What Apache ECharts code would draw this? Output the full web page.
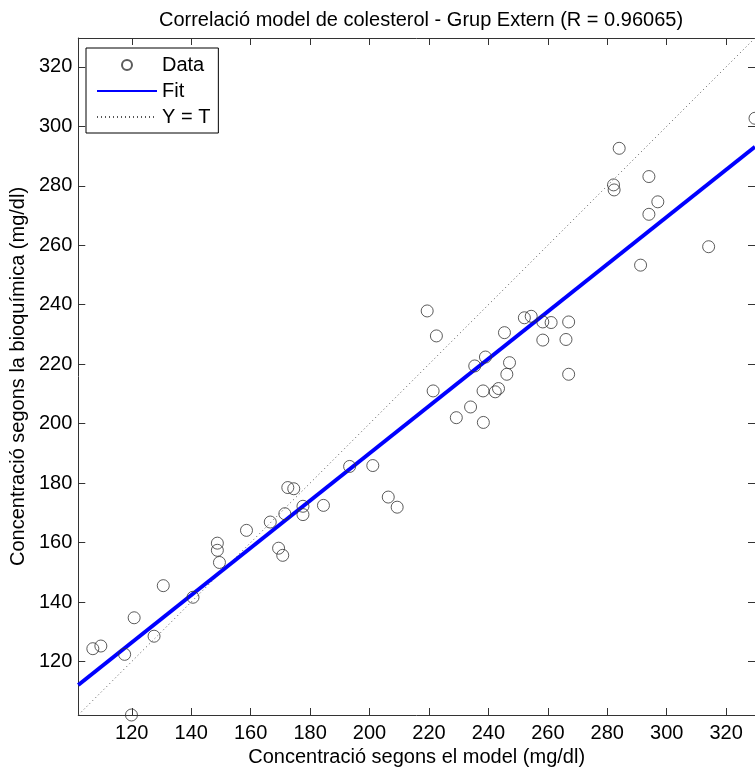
<!DOCTYPE html>
<html>
<head>
<meta charset="utf-8">
<script src="https://cdn.jsdelivr.net/npm/echarts@6/dist/echarts.min.js"></script>
<style>
  html, body { margin: 0; padding: 0; background: #fff; }
  #main { width: 755px; height: 773px; }
</style>
</head>
<body>
<div id="main"></div>
<script>
// dades llegides del gràfic
var modelX = [106.9, 109.6, 117.6, 120.8, 127.5, 130.6, 140.6, 119.9, 149.5, 148.8,
              148.8, 158.6, 166.6, 169.4, 170.8, 171.5, 172.5, 174.5, 177.6, 177.6,
              184.5, 193.3, 201.1, 206.3, 209.3, 219.4, 222.5, 221.4, 229.2, 234.0,
              238.3, 238.2, 242.3, 243.4, 235.4, 239.0, 247.1, 246.2, 245.4, 252.1,
              254.4, 258.3, 261.1, 267.0, 258.3, 266.1, 267.0, 284.0, 282.1, 282.3,
              294.0, 297.0, 294.0, 314.1, 291.2, 329.7];
var bioY   = [124.3, 125.2, 122.4, 134.7, 128.5, 145.5, 141.6, 102.0, 153.3, 159.8,
              157.4, 164.1, 166.9, 158.1, 155.7, 169.7, 178.5, 178.1, 172.2, 169.4,
              172.5, 185.6, 185.9, 175.3, 171.9, 237.9, 229.5, 211.0, 202.0, 205.6,
              200.4, 211.0, 210.7, 211.8, 219.4, 222.4, 220.5, 216.6, 230.6, 235.6,
              236.1, 234.2, 234.0, 234.2, 228.1, 228.3, 216.6, 292.6, 280.3, 278.6,
              283.1, 274.6, 270.4, 259.5, 253.3, 302.7];
var fitX = [102, 329.7];
var fitY = [112.1, 293.1];
var identX = [102, 329.7];
var identY = [102, 329.7];
var tickValues = [120, 140, 160, 180, 200, 220, 240, 260, 280, 300, 320];
var axisMin = 102, axisMax = 329.7;

var font = "'Liberation Sans', Arial, sans-serif";
var myChart = echarts.init(document.getElementById('main'));

function pairs(a, b) {
    return a.map(function (v, i) { return [v, b[i]]; });
}

function makeAxis(pos, showLabel, name, gap, margin) {
    return {
        type: 'value',
        position: pos,
        min: axisMin,
        max: axisMax,
        name: name,
        nameLocation: 'middle',
        nameGap: gap,
        nameTextStyle: { color: '#000', fontFamily: font, fontSize: 20 },
        axisLine: { show: true, onZero: false, lineStyle: { color: '#333', width: 1 } },
        axisTick: { show: true, inside: true, length: 7, customValues: tickValues,
                    lineStyle: { color: '#333' } },
        axisLabel: { show: showLabel, customValues: tickValues, color: '#000',
                     fontFamily: font, fontSize: 20, margin: margin },
        splitLine: { show: false }
    };
}

var option = {
    animation: false,
    backgroundColor: '#fff',
    title: {
        text: 'Correlació model de colesterol - Grup Extern (R = 0.96065)',
        left: 416,
        textAlign: 'center',
        top: 5,
        textStyle: { color: '#000', fontFamily: font, fontSize: 20, fontWeight: 'normal' }
    },
    grid: { left: 77, right: -1, top: 38, bottom: 58 },
    legend: {
        orient: 'vertical',
        left: 86,
        top: 48,
        padding: [7, 8, 6, 10],
        itemWidth: 60,
        itemHeight: 10,
        itemGap: 6,
        borderColor: '#000',
        borderWidth: 1,
        backgroundColor: '#fff',
        textStyle: { color: '#000', fontFamily: font, fontSize: 20 },
        data: [
            { name: 'Data' },
            { name: 'Fit', itemStyle: { opacity: 0 } },
            { name: 'Y = T', itemStyle: { opacity: 0 } }
        ]
    },
    xAxis: [
        makeAxis('bottom', true, 'Concentració segons el model (mg/dl)', 29, 8),
        makeAxis('top', false, '', 0, 8)
    ],
    yAxis: [
        makeAxis('left', true, 'Concentració segons la bioquímica (mg/dl)', 43, 6),
        makeAxis('right', false, '', 0, 6)
    ],
    series: [
        {
            name: 'Data',
            type: 'scatter',
            clip: false,
            symbol: 'circle',
            symbolSize: 12,
            itemStyle: { color: 'rgba(0,0,0,0)', borderColor: '#333', borderWidth: 1 },
            data: pairs(modelX, bioY),
            z: 3
        },
        {
            name: 'Fit',
            type: 'line',
            symbol: 'none',
            lineStyle: { color: '#0000ff', width: 4 },
            itemStyle: { color: '#0000ff' },
            data: pairs(fitX, fitY),
            z: 2
        },
        {
            name: 'Y = T',
            type: 'line',
            symbol: 'none',
            lineStyle: { color: '#555', width: 1, type: [1, 3] },
            itemStyle: { color: '#555' },
            data: pairs(identX, identY),
            z: 1
        }
    ]
};

myChart.setOption(option);
</script>
</body>
</html>
